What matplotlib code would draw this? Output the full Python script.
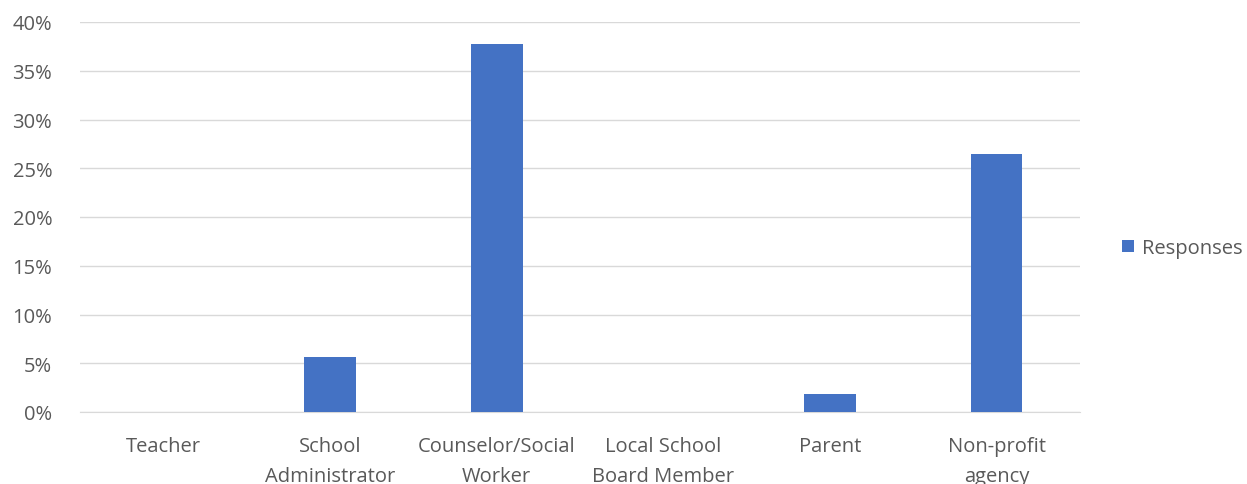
import matplotlib.pyplot as plt
from matplotlib.ticker import FuncFormatter

categories = ["Teacher", "School\nAdministrator", "Counselor/Social\nWorker",
              "Local School\nBoard Member", "Parent", "Non-profit\nagency"]
responses = [0.0, 5.66, 37.74, 0.0, 1.89, 26.42]
series_name = "Responses"

plt.rcParams['font.family'] = ['Open Sans', 'DejaVu Sans']

fig = plt.figure(figsize=(12.47, 4.85), dpi=100)
ax = fig.add_axes([80 / 1247, 1 - 413 / 485, 1000 / 1247, 390 / 485])

x = list(range(len(categories)))
ax.bar(x, responses, width=0.31, color="#4472C4", label=series_name, zorder=3)

ax.set_xlim(-0.5, len(categories) - 0.5)
ax.set_ylim(0, 40)
ax.set_yticks(range(0, 41, 5))
ax.yaxis.set_major_formatter(FuncFormatter(lambda v, p: "%d%%" % v))
ax.set_xticks(x)
ax.set_xticklabels(categories, linespacing=1.7)
ax.grid(axis='y', color="#D9D9D9", linewidth=1, zorder=0)

for s in ['top', 'right', 'left']:
    ax.spines[s].set_visible(False)
ax.spines['bottom'].set_color("#D9D9D9")
ax.tick_params(axis='both', length=0, labelsize=14.5, colors="#595959")
ax.tick_params(axis='y', pad=20)
ax.tick_params(axis='x', pad=17)

leg = ax.legend(loc='center left', bbox_to_anchor=(1.024, 0.42), frameon=False,
                fontsize=14.5, handlelength=0.6, handleheight=0.6, handletextpad=0.4)
for t in leg.get_texts():
    t.set_color("#595959")

fig.savefig("out.png", dpi=100)
